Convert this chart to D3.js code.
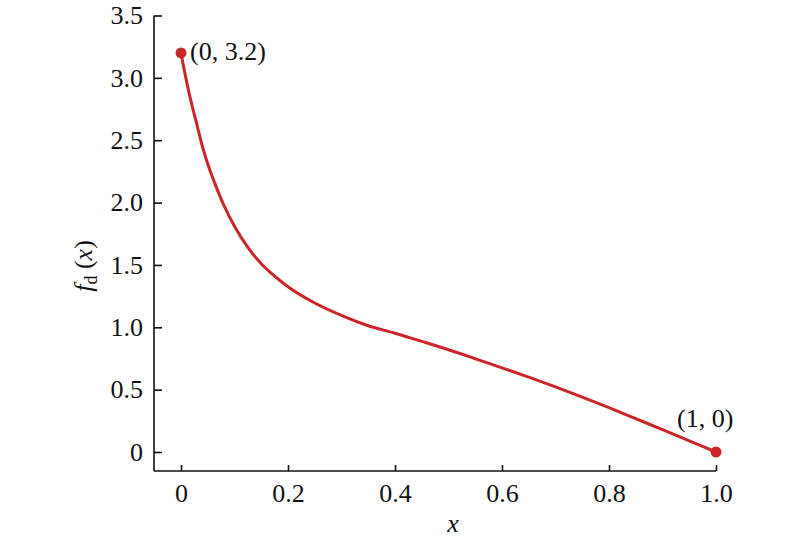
<!DOCTYPE html>
<html>
<head>
<meta charset="utf-8">
<script src="https://cdn.jsdelivr.net/npm/d3@7"></script>
<style>
  html, body { margin: 0; padding: 0; background: #fff; }
  svg { display: block; }
  text { font-family: "Liberation Serif", "Times New Roman", serif; fill: #111; }
</style>
</head>
<body>
<svg id="chart" width="800" height="542"></svg>
<script>
// Data
const xValues = [0, 0.01, 0.02, 0.03, 0.04, 0.05, 0.06, 0.08, 0.10, 0.125, 0.15, 0.175, 0.20, 0.25, 0.30, 0.35, 0.40, 0.45, 0.50, 0.55, 0.60, 0.65, 0.70, 0.75, 0.80, 0.85, 0.90, 0.95, 1.0];
const yValues = [3.20, 2.98, 2.79, 2.62, 2.45, 2.31, 2.19, 1.98, 1.81, 1.64, 1.51, 1.41, 1.325, 1.195, 1.095, 1.012, 0.952, 0.887, 0.82, 0.748, 0.675, 0.60, 0.522, 0.44, 0.355, 0.267, 0.18, 0.09, 0];
const xTicks = [0, 0.2, 0.4, 0.6, 0.8, 1.0];
const xTickLabels = ["0", "0.2", "0.4", "0.6", "0.8", "1.0"];
const yTicks = [0, 0.5, 1.0, 1.5, 2.0, 2.5, 3.0, 3.5];
const yTickLabels = ["0", "0.5", "1.0", "1.5", "2.0", "2.5", "3.0", "3.5"];
const markedPoints = [{x: 0, y: 3.2, label: "(0, 3.2)"}, {x: 1, y: 0, label: "(1, 0)"}];

const svg = d3.select("#chart");
const x = d3.scaleLinear().domain([0, 1]).range([181, 716]);
const y = d3.scaleLinear().domain([0, 3.5]).range([452, 15.5]);
const axisX = 154, axisY = 471;
const red = "#cc2529";
const fontSize = 26;

// Y axis
const gy = svg.append("g").attr("transform", `translate(${axisX},0)`)
  .call(d3.axisLeft(y).tickValues(yTicks).tickSize(-8).tickPadding(11)
    .tickFormat((d, i) => yTickLabels[i]));
gy.select(".domain").remove();
gy.selectAll("line").attr("stroke", "#111").attr("stroke-width", 1.6);
gy.selectAll("text").style("font-size", fontSize + "px").attr("fill", "#111");
svg.append("line").attr("x1", axisX).attr("x2", axisX)
  .attr("y1", y(3.5)).attr("y2", axisY).attr("stroke", "#111").attr("stroke-width", 1.6);

// X axis
const gx = svg.append("g").attr("transform", `translate(0,${axisY})`)
  .call(d3.axisBottom(x).tickValues(xTicks).tickSize(-6).tickPadding(13)
    .tickFormat((d, i) => xTickLabels[i]));
gx.select(".domain").remove();
gx.selectAll("line").attr("stroke", "#111").attr("stroke-width", 1.6);
gx.selectAll("text").style("font-size", fontSize + "px").attr("fill", "#111");
svg.append("line").attr("x1", axisX).attr("x2", x(1))
  .attr("y1", axisY).attr("y2", axisY).attr("stroke", "#111").attr("stroke-width", 1.6);

// Curve
const data = xValues.map((v, i) => ({x: v, y: yValues[i]}));
svg.append("path").datum(data)
  .attr("fill", "none").attr("stroke", red).attr("stroke-width", 3)
  .attr("d", d3.line().x(d => x(d.x)).y(d => y(d.y)).curve(d3.curveMonotoneX));

// Marked points
svg.selectAll("circle.pt").data(markedPoints).enter().append("circle")
  .attr("class", "pt").attr("cx", d => x(d.x)).attr("cy", d => y(d.y)).attr("r", 5.5).attr("fill", red);

svg.append("text").attr("x", x(0) + 9).attr("y", y(3.2) + 7)
  .style("font-size", fontSize + "px").text(markedPoints[0].label);
svg.append("text").attr("x", x(1) - 39).attr("y", y(0) - 25)
  .style("font-size", fontSize + "px").text(markedPoints[1].label);

// Axis titles
svg.append("text").attr("x", 453).attr("y", 532).attr("text-anchor", "middle")
  .style("font-size", fontSize + "px").style("font-style", "italic").text("x");

const yl = svg.append("text").attr("transform", "translate(92,266) rotate(-90)")
  .attr("text-anchor", "middle").style("font-size", fontSize + "px");
yl.append("tspan").style("font-style", "italic").text("f");
yl.append("tspan").attr("dy", 5).style("font-size", "18px").text("d");
yl.append("tspan").attr("dy", -5).text(" (");
yl.append("tspan").style("font-style", "italic").text("x");
yl.append("tspan").text(")");
</script>
</body>
</html>
